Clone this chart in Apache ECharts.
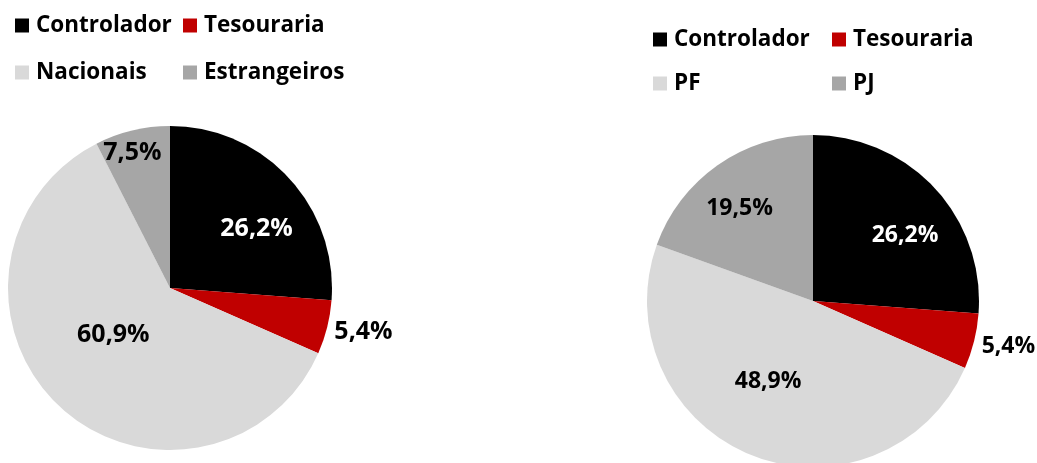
<!DOCTYPE html>
<html>
<head>
<meta charset="utf-8">
<script src="https://cdn.jsdelivr.net/npm/echarts@6/dist/echarts.min.js"></script>
<style>
  html, body { margin: 0; padding: 0; background: #fff; }
  #chart { width: 1037px; height: 463px; }
</style>
</head>
<body>
<div id="chart"></div>
<script>
// data
const leftNames = ['Controlador', 'Tesouraria', 'Nacionais', 'Estrangeiros']
const leftValues = [26.2, 5.4, 60.9, 7.5]
const rightNames = ['Controlador', 'Tesouraria', 'PF', 'PJ']
const rightValues = [26.2, 5.4, 48.9, 19.5]

const colors = ['#000000', '#C00000', '#D9D9D9', '#A6A6A6']
const font = '"Open Sans", "Noto Sans", sans-serif'

// label nudges from the default inside position (Excel-like placement)
const leftNudge = [[25, -2], [112, 23], [1, -14], [-18, -53]]
const rightNudge = [[29, -7], [112, 25], [-13, 1], [-24, -22]]

function fmt(p) {
  return p.value.toFixed(1).replace('.', ',') + '%'
}

function pieData(names, values) {
  return names.map((n, i) => ({
    name: n,
    value: values[i],
    itemStyle: { color: colors[i] },
    label: { color: i === 0 ? '#ffffff' : '#000000' }
  }))
}

function makeLegend(name, left, top) {
  return {
    data: [name],
    left: left,
    top: top,
    padding: 0,
    icon: 'rect',
    itemWidth: 14,
    itemHeight: 14,
    selectedMode: false,
    textStyle: {
      fontFamily: font,
      fontWeight: 'bold',
      fontSize: 22.5,
      color: '#000',
      padding: [0, 0, 0, 2]
    }
  }
}

function makePie(names, values, center, radius, fontSize, nudge) {
  return {
    type: 'pie',
    center: center,
    radius: radius,
    startAngle: 90,
    clockwise: true,
    animation: false,
    silent: true,
    itemStyle: { borderWidth: 0 },
    label: {
      show: true,
      position: 'inside',
      formatter: fmt,
      fontFamily: font,
      fontWeight: 'bold',
      fontSize: fontSize
    },
    labelLine: { show: false },
    labelLayout: function (params) {
      const d = nudge[params.dataIndex]
      return { dx: d[0], dy: d[1] }
    },
    data: pieData(names, values)
  }
}

const chart = echarts.init(document.getElementById('chart'))
chart.setOption({
  backgroundColor: '#ffffff',
  legend: [
    makeLegend('Controlador', 15, 14),
    makeLegend('Tesouraria', 183, 14),
    makeLegend('Nacionais', 15, 61),
    makeLegend('Estrangeiros', 183, 61),
    makeLegend('Controlador', 653, 28),
    makeLegend('Tesouraria', 832, 28),
    makeLegend('PF', 653, 72),
    makeLegend('PJ', 832, 72)
  ],
  series: [
    makePie(leftNames, leftValues, [170, 288], 162, 25, leftNudge),
    makePie(rightNames, rightValues, [813, 301], 166, 23, rightNudge)
  ]
})
</script>
</body>
</html>
